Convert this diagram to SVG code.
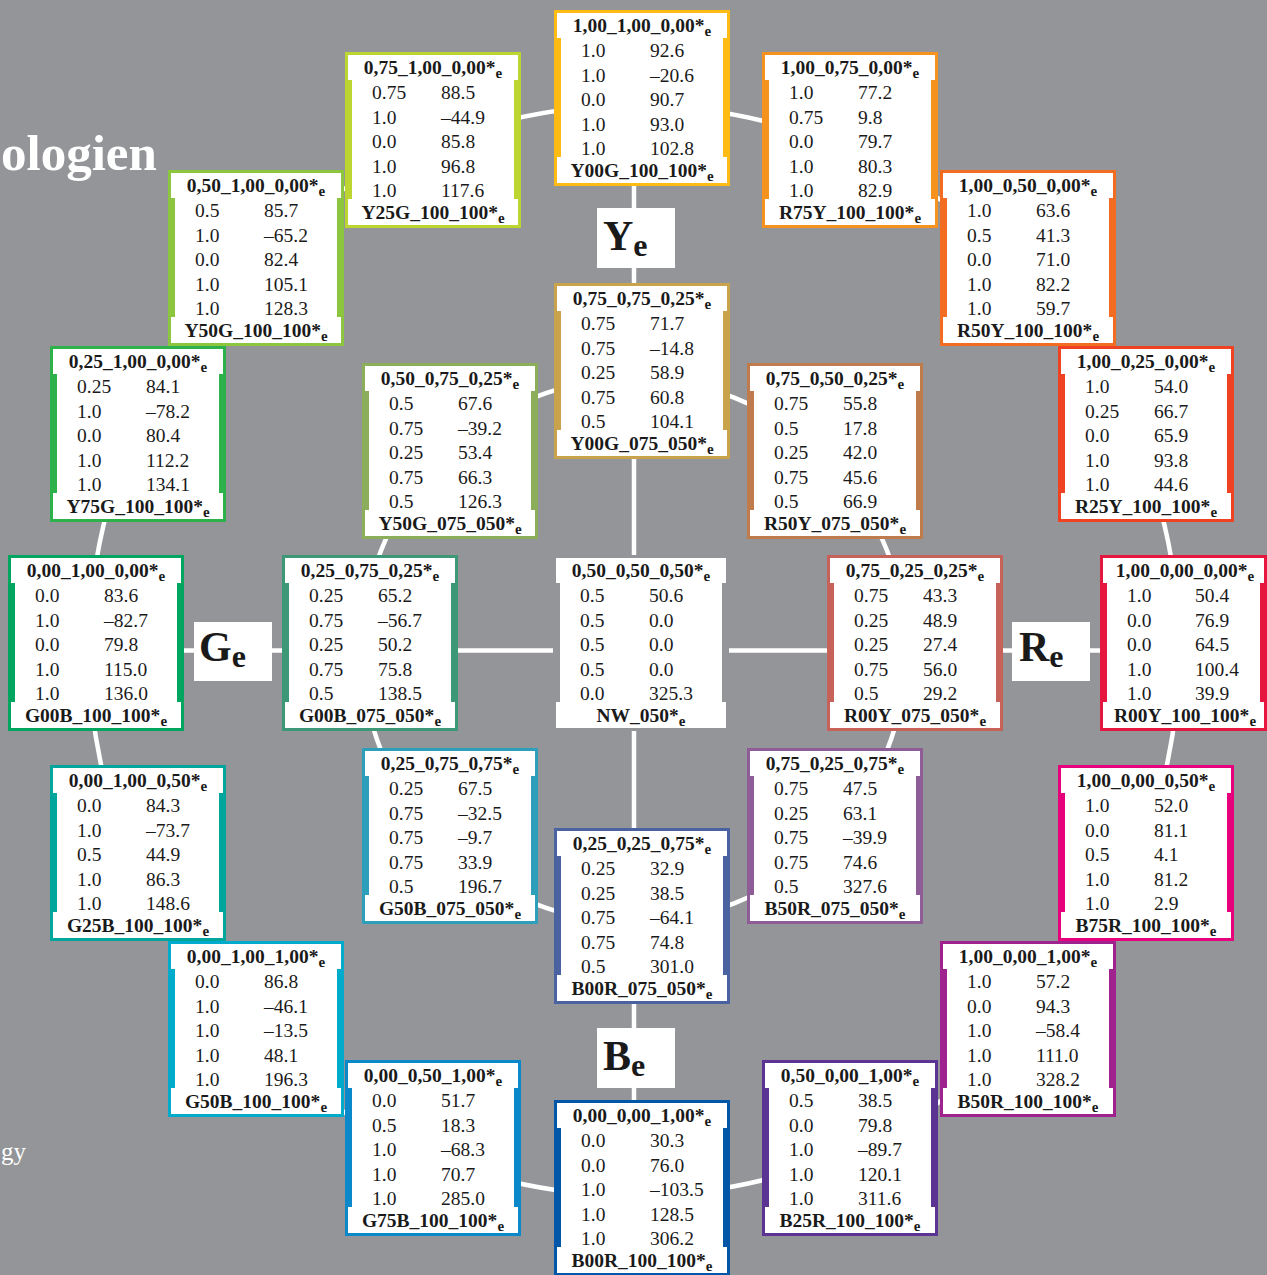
<svg xmlns="http://www.w3.org/2000/svg" width="1267" height="1275" viewBox="0 0 1267 1275">
<style>
.bg{fill:#939598}
.w{fill:#ffffff}
.t{font-family:"Liberation Serif","Times New Roman",serif;font-weight:bold;font-size:19.5px;fill:#1a1a1a;text-anchor:middle}
.v{font-family:"Liberation Serif","Times New Roman",serif;font-size:19.5px;fill:#1a1a1a}
.s{font-size:15px}
.L{font-family:"Liberation Serif","Times New Roman",serif;font-weight:bold;font-size:42px;fill:#1a1a1a}
.Ls{font-size:32px}
.h{font-family:"Liberation Serif","Times New Roman",serif;fill:#ffffff}
.c{fill:none;stroke:#ffffff;stroke-width:4.5}
</style>
<defs>
<g id="frame">
<rect width="176" height="176"/>
<rect class="w" x="3" y="3" width="170" height="170"/>
<rect x="3" y="28" width="4" height="119"/>
<rect x="169" y="28" width="4" height="119"/>
</g>
</defs>
<rect class="bg" width="1267" height="1275"/>
<text class="h" x="1" y="170" font-weight="bold" font-size="51">ologien</text>
<text class="h" x="1" y="1160" font-size="25">gy</text>

<g id="connectors">
<circle class="c" cx="634" cy="650.5" r="545"/>
<circle class="c" cx="634" cy="650.5" r="272"/>
<line class="c" x1="634" y1="186" x2="634" y2="1101"/>
<line class="c" x1="184" y1="650.5" x2="1101" y2="650.5"/>
</g>

<g id="label_Ye"><rect class="w" x="597" y="208" width="78" height="60"/><text class="L" x="603" y="250">Y<tspan class="Ls" dy="6">e</tspan></text></g>
<g id="label_Ge"><rect class="w" x="194" y="622" width="78" height="59"/><text class="L" x="199" y="661">G<tspan class="Ls" dy="6">e</tspan></text></g>
<g id="label_Re"><rect class="w" x="1012" y="622" width="78" height="59"/><text class="L" x="1019" y="661">R<tspan class="Ls" dy="6">e</tspan></text></g>
<g id="label_Be"><rect class="w" x="597" y="1028" width="78" height="60"/><text class="L" x="603" y="1070">B<tspan class="Ls" dy="6">e</tspan></text></g>

<g id="Y00G_100_100" transform="translate(554,10)" fill="#FDBB13"><use href="#frame"/>
<text class="t" x="88" y="22">1,00_1,00_0,00*<tspan class="s" dy="4">e</tspan></text>
<text class="v" y="47"><tspan x="27">1.0</tspan><tspan x="96">92.6</tspan></text>
<text class="v" y="71.5"><tspan x="27">1.0</tspan><tspan x="96">–20.6</tspan></text>
<text class="v" y="96"><tspan x="27">0.0</tspan><tspan x="96">90.7</tspan></text>
<text class="v" y="120.5"><tspan x="27">1.0</tspan><tspan x="96">93.0</tspan></text>
<text class="v" y="145"><tspan x="27">1.0</tspan><tspan x="96">102.8</tspan></text>
<text class="t" x="88" y="167">Y00G_100_100*<tspan class="s" dy="4">e</tspan></text></g>

<g id="R75Y_100_100" transform="translate(762,52)" fill="#F6921E"><use href="#frame"/>
<text class="t" x="88" y="22">1,00_0,75_0,00*<tspan class="s" dy="4">e</tspan></text>
<text class="v" y="47"><tspan x="27">1.0</tspan><tspan x="96">77.2</tspan></text>
<text class="v" y="71.5"><tspan x="27">0.75</tspan><tspan x="96">9.8</tspan></text>
<text class="v" y="96"><tspan x="27">0.0</tspan><tspan x="96">79.7</tspan></text>
<text class="v" y="120.5"><tspan x="27">1.0</tspan><tspan x="96">80.3</tspan></text>
<text class="v" y="145"><tspan x="27">1.0</tspan><tspan x="96">82.9</tspan></text>
<text class="t" x="88" y="167">R75Y_100_100*<tspan class="s" dy="4">e</tspan></text></g>

<g id="R50Y_100_100" transform="translate(940,170)" fill="#F26D21"><use href="#frame"/>
<text class="t" x="88" y="22">1,00_0,50_0,00*<tspan class="s" dy="4">e</tspan></text>
<text class="v" y="47"><tspan x="27">1.0</tspan><tspan x="96">63.6</tspan></text>
<text class="v" y="71.5"><tspan x="27">0.5</tspan><tspan x="96">41.3</tspan></text>
<text class="v" y="96"><tspan x="27">0.0</tspan><tspan x="96">71.0</tspan></text>
<text class="v" y="120.5"><tspan x="27">1.0</tspan><tspan x="96">82.2</tspan></text>
<text class="v" y="145"><tspan x="27">1.0</tspan><tspan x="96">59.7</tspan></text>
<text class="t" x="88" y="167">R50Y_100_100*<tspan class="s" dy="4">e</tspan></text></g>

<g id="R25Y_100_100" transform="translate(1058,346)" fill="#EE4223"><use href="#frame"/>
<text class="t" x="88" y="22">1,00_0,25_0,00*<tspan class="s" dy="4">e</tspan></text>
<text class="v" y="47"><tspan x="27">1.0</tspan><tspan x="96">54.0</tspan></text>
<text class="v" y="71.5"><tspan x="27">0.25</tspan><tspan x="96">66.7</tspan></text>
<text class="v" y="96"><tspan x="27">0.0</tspan><tspan x="96">65.9</tspan></text>
<text class="v" y="120.5"><tspan x="27">1.0</tspan><tspan x="96">93.8</tspan></text>
<text class="v" y="145"><tspan x="27">1.0</tspan><tspan x="96">44.6</tspan></text>
<text class="t" x="88" y="167">R25Y_100_100*<tspan class="s" dy="4">e</tspan></text></g>

<g id="R00Y_100_100" transform="translate(1100,555)" fill="#E6173F">
<rect width="167" height="176"/>
<rect class="w" x="3" y="3" width="161" height="170"/>
<rect x="3" y="28" width="4" height="119"/>
<rect x="160" y="28" width="4" height="119"/>
<text class="t" x="85" y="22">1,00_0,00_0,00*<tspan class="s" dy="4">e</tspan></text>
<text class="v" y="47"><tspan x="27">1.0</tspan><tspan x="95">50.4</tspan></text>
<text class="v" y="71.5"><tspan x="27">0.0</tspan><tspan x="95">76.9</tspan></text>
<text class="v" y="96"><tspan x="27">0.0</tspan><tspan x="95">64.5</tspan></text>
<text class="v" y="120.5"><tspan x="27">1.0</tspan><tspan x="95">100.4</tspan></text>
<text class="v" y="145"><tspan x="27">1.0</tspan><tspan x="95">39.9</tspan></text>
<text class="t" x="85" y="167">R00Y_100_100*<tspan class="s" dy="4">e</tspan></text></g>

<g id="B75R_100_100" transform="translate(1058,765)" fill="#E6007B"><use href="#frame"/>
<text class="t" x="88" y="22">1,00_0,00_0,50*<tspan class="s" dy="4">e</tspan></text>
<text class="v" y="47"><tspan x="27">1.0</tspan><tspan x="96">52.0</tspan></text>
<text class="v" y="71.5"><tspan x="27">0.0</tspan><tspan x="96">81.1</tspan></text>
<text class="v" y="96"><tspan x="27">0.5</tspan><tspan x="96">4.1</tspan></text>
<text class="v" y="120.5"><tspan x="27">1.0</tspan><tspan x="96">81.2</tspan></text>
<text class="v" y="145"><tspan x="27">1.0</tspan><tspan x="96">2.9</tspan></text>
<text class="t" x="88" y="167">B75R_100_100*<tspan class="s" dy="4">e</tspan></text></g>

<g id="B50R_100_100" transform="translate(940,941)" fill="#A0228F"><use href="#frame"/>
<text class="t" x="88" y="22">1,00_0,00_1,00*<tspan class="s" dy="4">e</tspan></text>
<text class="v" y="47"><tspan x="27">1.0</tspan><tspan x="96">57.2</tspan></text>
<text class="v" y="71.5"><tspan x="27">0.0</tspan><tspan x="96">94.3</tspan></text>
<text class="v" y="96"><tspan x="27">1.0</tspan><tspan x="96">–58.4</tspan></text>
<text class="v" y="120.5"><tspan x="27">1.0</tspan><tspan x="96">111.0</tspan></text>
<text class="v" y="145"><tspan x="27">1.0</tspan><tspan x="96">328.2</tspan></text>
<text class="t" x="88" y="167">B50R_100_100*<tspan class="s" dy="4">e</tspan></text></g>

<g id="B25R_100_100" transform="translate(762,1060)" fill="#5A3393"><use href="#frame"/>
<text class="t" x="88" y="22">0,50_0,00_1,00*<tspan class="s" dy="4">e</tspan></text>
<text class="v" y="47"><tspan x="27">0.5</tspan><tspan x="96">38.5</tspan></text>
<text class="v" y="71.5"><tspan x="27">0.0</tspan><tspan x="96">79.8</tspan></text>
<text class="v" y="96"><tspan x="27">1.0</tspan><tspan x="96">–89.7</tspan></text>
<text class="v" y="120.5"><tspan x="27">1.0</tspan><tspan x="96">120.1</tspan></text>
<text class="v" y="145"><tspan x="27">1.0</tspan><tspan x="96">311.6</tspan></text>
<text class="t" x="88" y="167">B25R_100_100*<tspan class="s" dy="4">e</tspan></text></g>

<g id="B00R_100_100" transform="translate(554,1100)" fill="#0057A8"><use href="#frame"/>
<text class="t" x="88" y="22">0,00_0,00_1,00*<tspan class="s" dy="4">e</tspan></text>
<text class="v" y="47"><tspan x="27">0.0</tspan><tspan x="96">30.3</tspan></text>
<text class="v" y="71.5"><tspan x="27">0.0</tspan><tspan x="96">76.0</tspan></text>
<text class="v" y="96"><tspan x="27">1.0</tspan><tspan x="96">–103.5</tspan></text>
<text class="v" y="120.5"><tspan x="27">1.0</tspan><tspan x="96">128.5</tspan></text>
<text class="v" y="145"><tspan x="27">1.0</tspan><tspan x="96">306.2</tspan></text>
<text class="t" x="88" y="167">B00R_100_100*<tspan class="s" dy="4">e</tspan></text></g>

<g id="G75B_100_100" transform="translate(345,1060)" fill="#0A88CA"><use href="#frame"/>
<text class="t" x="88" y="22">0,00_0,50_1,00*<tspan class="s" dy="4">e</tspan></text>
<text class="v" y="47"><tspan x="27">0.0</tspan><tspan x="96">51.7</tspan></text>
<text class="v" y="71.5"><tspan x="27">0.5</tspan><tspan x="96">18.3</tspan></text>
<text class="v" y="96"><tspan x="27">1.0</tspan><tspan x="96">–68.3</tspan></text>
<text class="v" y="120.5"><tspan x="27">1.0</tspan><tspan x="96">70.7</tspan></text>
<text class="v" y="145"><tspan x="27">1.0</tspan><tspan x="96">285.0</tspan></text>
<text class="t" x="88" y="167">G75B_100_100*<tspan class="s" dy="4">e</tspan></text></g>

<g id="G50B_100_100" transform="translate(168,941)" fill="#00AACB"><use href="#frame"/>
<text class="t" x="88" y="22">0,00_1,00_1,00*<tspan class="s" dy="4">e</tspan></text>
<text class="v" y="47"><tspan x="27">0.0</tspan><tspan x="96">86.8</tspan></text>
<text class="v" y="71.5"><tspan x="27">1.0</tspan><tspan x="96">–46.1</tspan></text>
<text class="v" y="96"><tspan x="27">1.0</tspan><tspan x="96">–13.5</tspan></text>
<text class="v" y="120.5"><tspan x="27">1.0</tspan><tspan x="96">48.1</tspan></text>
<text class="v" y="145"><tspan x="27">1.0</tspan><tspan x="96">196.3</tspan></text>
<text class="t" x="88" y="167">G50B_100_100*<tspan class="s" dy="4">e</tspan></text></g>

<g id="G25B_100_100" transform="translate(50,765)" fill="#00A69C"><use href="#frame"/>
<text class="t" x="88" y="22">0,00_1,00_0,50*<tspan class="s" dy="4">e</tspan></text>
<text class="v" y="47"><tspan x="27">0.0</tspan><tspan x="96">84.3</tspan></text>
<text class="v" y="71.5"><tspan x="27">1.0</tspan><tspan x="96">–73.7</tspan></text>
<text class="v" y="96"><tspan x="27">0.5</tspan><tspan x="96">44.9</tspan></text>
<text class="v" y="120.5"><tspan x="27">1.0</tspan><tspan x="96">86.3</tspan></text>
<text class="v" y="145"><tspan x="27">1.0</tspan><tspan x="96">148.6</tspan></text>
<text class="t" x="88" y="167">G25B_100_100*<tspan class="s" dy="4">e</tspan></text></g>

<g id="G00B_100_100" transform="translate(8,555)" fill="#00A660"><use href="#frame"/>
<text class="t" x="88" y="22">0,00_1,00_0,00*<tspan class="s" dy="4">e</tspan></text>
<text class="v" y="47"><tspan x="27">0.0</tspan><tspan x="96">83.6</tspan></text>
<text class="v" y="71.5"><tspan x="27">1.0</tspan><tspan x="96">–82.7</tspan></text>
<text class="v" y="96"><tspan x="27">0.0</tspan><tspan x="96">79.8</tspan></text>
<text class="v" y="120.5"><tspan x="27">1.0</tspan><tspan x="96">115.0</tspan></text>
<text class="v" y="145"><tspan x="27">1.0</tspan><tspan x="96">136.0</tspan></text>
<text class="t" x="88" y="167">G00B_100_100*<tspan class="s" dy="4">e</tspan></text></g>

<g id="Y75G_100_100" transform="translate(50,346)" fill="#2DB14B"><use href="#frame"/>
<text class="t" x="88" y="22">0,25_1,00_0,00*<tspan class="s" dy="4">e</tspan></text>
<text class="v" y="47"><tspan x="27">0.25</tspan><tspan x="96">84.1</tspan></text>
<text class="v" y="71.5"><tspan x="27">1.0</tspan><tspan x="96">–78.2</tspan></text>
<text class="v" y="96"><tspan x="27">0.0</tspan><tspan x="96">80.4</tspan></text>
<text class="v" y="120.5"><tspan x="27">1.0</tspan><tspan x="96">112.2</tspan></text>
<text class="v" y="145"><tspan x="27">1.0</tspan><tspan x="96">134.1</tspan></text>
<text class="t" x="88" y="167">Y75G_100_100*<tspan class="s" dy="4">e</tspan></text></g>

<g id="Y50G_100_100" transform="translate(168,170)" fill="#8CC63F"><use href="#frame"/>
<text class="t" x="88" y="22">0,50_1,00_0,00*<tspan class="s" dy="4">e</tspan></text>
<text class="v" y="47"><tspan x="27">0.5</tspan><tspan x="96">85.7</tspan></text>
<text class="v" y="71.5"><tspan x="27">1.0</tspan><tspan x="96">–65.2</tspan></text>
<text class="v" y="96"><tspan x="27">0.0</tspan><tspan x="96">82.4</tspan></text>
<text class="v" y="120.5"><tspan x="27">1.0</tspan><tspan x="96">105.1</tspan></text>
<text class="v" y="145"><tspan x="27">1.0</tspan><tspan x="96">128.3</tspan></text>
<text class="t" x="88" y="167">Y50G_100_100*<tspan class="s" dy="4">e</tspan></text></g>

<g id="Y25G_100_100" transform="translate(345,52)" fill="#BDD530"><use href="#frame"/>
<text class="t" x="88" y="22">0,75_1,00_0,00*<tspan class="s" dy="4">e</tspan></text>
<text class="v" y="47"><tspan x="27">0.75</tspan><tspan x="96">88.5</tspan></text>
<text class="v" y="71.5"><tspan x="27">1.0</tspan><tspan x="96">–44.9</tspan></text>
<text class="v" y="96"><tspan x="27">0.0</tspan><tspan x="96">85.8</tspan></text>
<text class="v" y="120.5"><tspan x="27">1.0</tspan><tspan x="96">96.8</tspan></text>
<text class="v" y="145"><tspan x="27">1.0</tspan><tspan x="96">117.6</tspan></text>
<text class="t" x="88" y="167">Y25G_100_100*<tspan class="s" dy="4">e</tspan></text></g>

<g id="Y00G_075_050" transform="translate(554,283)" fill="#C9A24C"><use href="#frame"/>
<text class="t" x="88" y="22">0,75_0,75_0,25*<tspan class="s" dy="4">e</tspan></text>
<text class="v" y="47"><tspan x="27">0.75</tspan><tspan x="96">71.7</tspan></text>
<text class="v" y="71.5"><tspan x="27">0.75</tspan><tspan x="96">–14.8</tspan></text>
<text class="v" y="96"><tspan x="27">0.25</tspan><tspan x="96">58.9</tspan></text>
<text class="v" y="120.5"><tspan x="27">0.75</tspan><tspan x="96">60.8</tspan></text>
<text class="v" y="145"><tspan x="27">0.5</tspan><tspan x="96">104.1</tspan></text>
<text class="t" x="88" y="167">Y00G_075_050*<tspan class="s" dy="4">e</tspan></text></g>

<g id="R50Y_075_050" transform="translate(747,363)" fill="#C07B4D"><use href="#frame"/>
<text class="t" x="88" y="22">0,75_0,50_0,25*<tspan class="s" dy="4">e</tspan></text>
<text class="v" y="47"><tspan x="27">0.75</tspan><tspan x="96">55.8</tspan></text>
<text class="v" y="71.5"><tspan x="27">0.5</tspan><tspan x="96">17.8</tspan></text>
<text class="v" y="96"><tspan x="27">0.25</tspan><tspan x="96">42.0</tspan></text>
<text class="v" y="120.5"><tspan x="27">0.75</tspan><tspan x="96">45.6</tspan></text>
<text class="v" y="145"><tspan x="27">0.5</tspan><tspan x="96">66.9</tspan></text>
<text class="t" x="88" y="167">R50Y_075_050*<tspan class="s" dy="4">e</tspan></text></g>

<g id="R00Y_075_050" transform="translate(827,555)" fill="#C7625B"><use href="#frame"/>
<text class="t" x="88" y="22">0,75_0,25_0,25*<tspan class="s" dy="4">e</tspan></text>
<text class="v" y="47"><tspan x="27">0.75</tspan><tspan x="96">43.3</tspan></text>
<text class="v" y="71.5"><tspan x="27">0.25</tspan><tspan x="96">48.9</tspan></text>
<text class="v" y="96"><tspan x="27">0.25</tspan><tspan x="96">27.4</tspan></text>
<text class="v" y="120.5"><tspan x="27">0.75</tspan><tspan x="96">56.0</tspan></text>
<text class="v" y="145"><tspan x="27">0.5</tspan><tspan x="96">29.2</tspan></text>
<text class="t" x="88" y="167">R00Y_075_050*<tspan class="s" dy="4">e</tspan></text></g>

<g id="B50R_075_050" transform="translate(747,748)" fill="#8E5D97"><use href="#frame"/>
<text class="t" x="88" y="22">0,75_0,25_0,75*<tspan class="s" dy="4">e</tspan></text>
<text class="v" y="47"><tspan x="27">0.75</tspan><tspan x="96">47.5</tspan></text>
<text class="v" y="71.5"><tspan x="27">0.25</tspan><tspan x="96">63.1</tspan></text>
<text class="v" y="96"><tspan x="27">0.75</tspan><tspan x="96">–39.9</tspan></text>
<text class="v" y="120.5"><tspan x="27">0.75</tspan><tspan x="96">74.6</tspan></text>
<text class="v" y="145"><tspan x="27">0.5</tspan><tspan x="96">327.6</tspan></text>
<text class="t" x="88" y="167">B50R_075_050*<tspan class="s" dy="4">e</tspan></text></g>

<g id="B00R_075_050" transform="translate(554,828)" fill="#4B62A0"><use href="#frame"/>
<text class="t" x="88" y="22">0,25_0,25_0,75*<tspan class="s" dy="4">e</tspan></text>
<text class="v" y="47"><tspan x="27">0.25</tspan><tspan x="96">32.9</tspan></text>
<text class="v" y="71.5"><tspan x="27">0.25</tspan><tspan x="96">38.5</tspan></text>
<text class="v" y="96"><tspan x="27">0.75</tspan><tspan x="96">–64.1</tspan></text>
<text class="v" y="120.5"><tspan x="27">0.75</tspan><tspan x="96">74.8</tspan></text>
<text class="v" y="145"><tspan x="27">0.5</tspan><tspan x="96">301.0</tspan></text>
<text class="t" x="88" y="167">B00R_075_050*<tspan class="s" dy="4">e</tspan></text></g>

<g id="G50B_075_050" transform="translate(362,748)" fill="#2D9FBA"><use href="#frame"/>
<text class="t" x="88" y="22">0,25_0,75_0,75*<tspan class="s" dy="4">e</tspan></text>
<text class="v" y="47"><tspan x="27">0.25</tspan><tspan x="96">67.5</tspan></text>
<text class="v" y="71.5"><tspan x="27">0.75</tspan><tspan x="96">–32.5</tspan></text>
<text class="v" y="96"><tspan x="27">0.75</tspan><tspan x="96">–9.7</tspan></text>
<text class="v" y="120.5"><tspan x="27">0.75</tspan><tspan x="96">33.9</tspan></text>
<text class="v" y="145"><tspan x="27">0.5</tspan><tspan x="96">196.7</tspan></text>
<text class="t" x="88" y="167">G50B_075_050*<tspan class="s" dy="4">e</tspan></text></g>

<g id="G00B_075_050" transform="translate(282,555)" fill="#3C9876"><use href="#frame"/>
<text class="t" x="88" y="22">0,25_0,75_0,25*<tspan class="s" dy="4">e</tspan></text>
<text class="v" y="47"><tspan x="27">0.25</tspan><tspan x="96">65.2</tspan></text>
<text class="v" y="71.5"><tspan x="27">0.75</tspan><tspan x="96">–56.7</tspan></text>
<text class="v" y="96"><tspan x="27">0.25</tspan><tspan x="96">50.2</tspan></text>
<text class="v" y="120.5"><tspan x="27">0.75</tspan><tspan x="96">75.8</tspan></text>
<text class="v" y="145"><tspan x="27">0.5</tspan><tspan x="96">138.5</tspan></text>
<text class="t" x="88" y="167">G00B_075_050*<tspan class="s" dy="4">e</tspan></text></g>

<g id="Y50G_075_050" transform="translate(362,363)" fill="#8CAE5A"><use href="#frame"/>
<text class="t" x="88" y="22">0,50_0,75_0,25*<tspan class="s" dy="4">e</tspan></text>
<text class="v" y="47"><tspan x="27">0.5</tspan><tspan x="96">67.6</tspan></text>
<text class="v" y="71.5"><tspan x="27">0.75</tspan><tspan x="96">–39.2</tspan></text>
<text class="v" y="96"><tspan x="27">0.25</tspan><tspan x="96">53.4</tspan></text>
<text class="v" y="120.5"><tspan x="27">0.75</tspan><tspan x="96">66.3</tspan></text>
<text class="v" y="145"><tspan x="27">0.5</tspan><tspan x="96">126.3</tspan></text>
<text class="t" x="88" y="167">Y50G_075_050*<tspan class="s" dy="4">e</tspan></text></g>

<g id="NW_050" transform="translate(553,555)" fill="#939598"><use href="#frame"/>
<text class="t" x="88" y="22">0,50_0,50_0,50*<tspan class="s" dy="4">e</tspan></text>
<text class="v" y="47"><tspan x="27">0.5</tspan><tspan x="96">50.6</tspan></text>
<text class="v" y="71.5"><tspan x="27">0.5</tspan><tspan x="96">0.0</tspan></text>
<text class="v" y="96"><tspan x="27">0.5</tspan><tspan x="96">0.0</tspan></text>
<text class="v" y="120.5"><tspan x="27">0.5</tspan><tspan x="96">0.0</tspan></text>
<text class="v" y="145"><tspan x="27">0.0</tspan><tspan x="96">325.3</tspan></text>
<text class="t" x="88" y="167">NW_050*<tspan class="s" dy="4">e</tspan></text></g>
</svg>
